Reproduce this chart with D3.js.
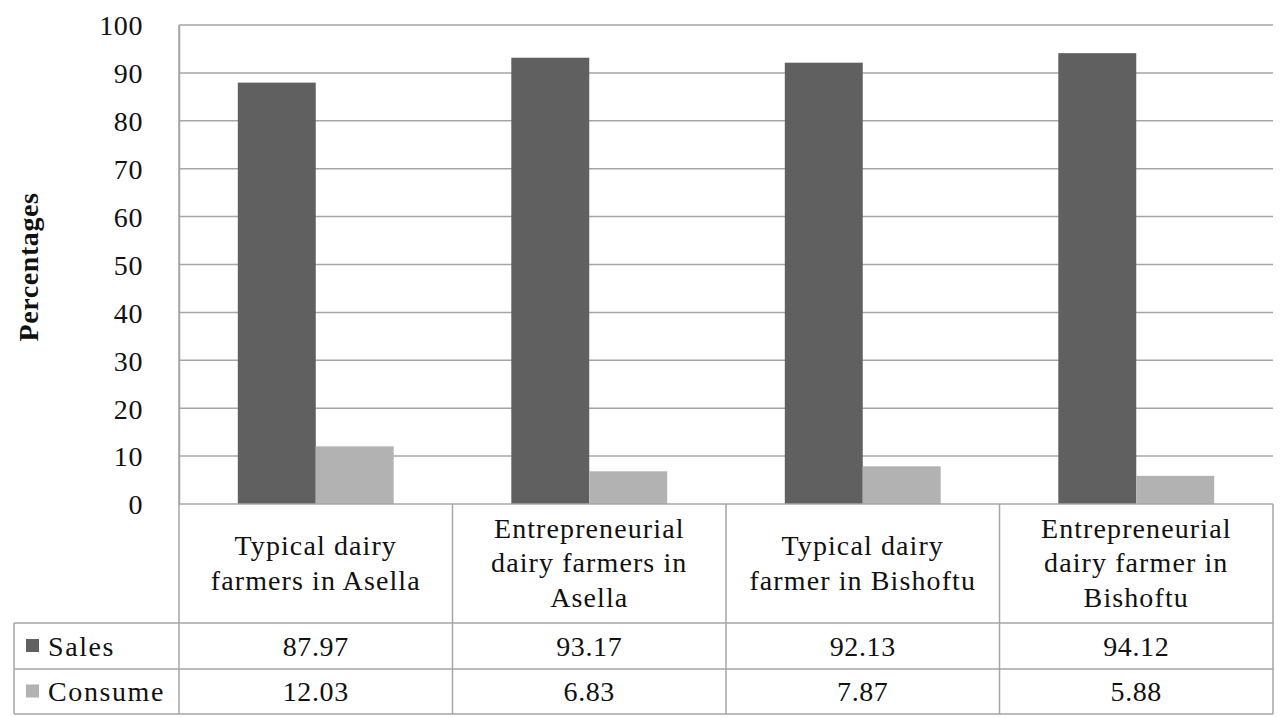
<!DOCTYPE html>
<html><head><meta charset="utf-8">
<script src="https://cdn.jsdelivr.net/npm/d3@7"></script>
<style>body{margin:0;background:#fff}svg{display:block}</style>
</head><body><svg id="c" width="1286" height="717"></svg>
<script>
const categories = [
  ["Typical dairy","farmers in Asella"],
  ["Entrepreneurial","dairy farmers in","Asella"],
  ["Typical dairy","farmer in Bishoftu"],
  ["Entrepreneurial","dairy farmer in","Bishoftu"]
];
const seriesNames = ["Sales","Consume"];
const sales = [87.97, 93.17, 92.13, 94.12];
const consume = [12.03, 6.83, 7.87, 5.88];
const yTicks = [0,10,20,30,40,50,60,70,80,90,100];
const colors = ["#606060","#b2b2b2"];

const FONT = "Liberation Serif";
const svg = d3.select("#c");
const L = 179, R = 1273, T = 25, B = 504;
const catRowB = 623, row1B = 669, row2B = 714, legL = 14;
const fs = 28, ls = "1.1px";
const grid = "#a6a6a6";

function styleText(sel, size){
  return sel.attr("font-family",FONT).attr("font-size",size||fs).attr("fill","#111").attr("letter-spacing",ls);
}

const idx = categories.map((d,i)=>i);
const x = d3.scaleBand().domain(idx).range([L,R]).paddingInner(0.43).paddingOuter(0.215);
const xs = d3.scaleBand().domain(seriesNames).range([0,x.bandwidth()]);
const y = d3.scaleLinear().domain([0,100]).range([B,T]);
const step = x.step();
const bandL = i => L + i*step;

// gridlines
svg.append("g").selectAll("line").data(yTicks.filter(t=>t>0)).join("line")
  .attr("x1",L).attr("x2",R).attr("y1",d=>y(d)).attr("y2",d=>y(d))
  .attr("stroke",grid).attr("stroke-width",1.5);

// bars
const series = [sales, consume];
seriesNames.forEach((s,si)=>{
  svg.append("g").selectAll("rect").data(series[si]).join("rect")
    .attr("x",(d,i)=>x(i)+xs(s)).attr("width",xs.bandwidth())
    .attr("y",d=>y(d)).attr("height",d=>y(0)-y(d))
    .attr("fill",colors[si]);
});

// y axis
const yAxis = d3.axisLeft(y).tickValues(yTicks).tickSize(0).tickPadding(36);
const ga = svg.append("g").attr("transform",`translate(${L},0)`).call(yAxis);
ga.select(".domain").attr("stroke",grid).attr("stroke-width",1.5);
styleText(ga.selectAll("text")).attr("dy","0.35em").attr("letter-spacing","0.6px");
ga.attr("font-family",FONT);

// axis title
styleText(svg.append("text"),28).attr("transform","translate(38,267) rotate(-90)")
  .attr("text-anchor","middle").attr("font-weight","bold").attr("letter-spacing","0.6px").text("Percentages");

// table
const tb = svg.append("g").attr("stroke",grid).attr("stroke-width",1.5).attr("fill","none");
tb.append("line").attr("x1",L).attr("x2",R).attr("y1",B).attr("y2",B);
tb.append("line").attr("x1",legL).attr("x2",R).attr("y1",catRowB).attr("y2",catRowB);
tb.append("line").attr("x1",legL).attr("x2",R).attr("y1",row1B).attr("y2",row1B);
tb.append("line").attr("x1",legL).attr("x2",R).attr("y1",row2B).attr("y2",row2B);
tb.append("line").attr("x1",legL).attr("x2",legL).attr("y1",catRowB).attr("y2",row2B);
tb.selectAll("line.v").data(d3.range(categories.length+1)).join("line").attr("class","v")
  .attr("x1",d=>bandL(d)).attr("x2",d=>bandL(d)).attr("y1",d=>d===0?T:B).attr("y2",row2B);

// category labels
const lh = 34.5;
categories.forEach((lines,i)=>{
  const cx = bandL(i)+step/2, cy = (B+catRowB)/2 - 1;
  lines.forEach((ln,j)=>{
    styleText(svg.append("text")).attr("text-anchor","middle")
      .attr("x",cx).attr("y",cy+(j-(lines.length-1)/2)*lh).attr("dy","0.35em").text(ln);
  });
});

// data rows
const rows = [[catRowB,row1B],[row1B,row2B]];
seriesNames.forEach((s,si)=>{
  const cy = (rows[si][0]+rows[si][1])/2;
  svg.append("rect").attr("x",26).attr("y",cy-7).attr("width",13).attr("height",13).attr("fill",colors[si]);
  styleText(svg.append("text")).attr("x",48).attr("y",cy).attr("dy","0.35em").attr("letter-spacing","1.6px").text(s);
  styleText(svg.append("g").selectAll("text").data(series[si]).join("text"))
    .attr("x",(d,i)=>bandL(i)+step/2).attr("y",cy).attr("dy","0.35em")
    .attr("text-anchor","middle").attr("letter-spacing","0.6px").text(d=>d.toFixed(2));
});
</script></body></html>
